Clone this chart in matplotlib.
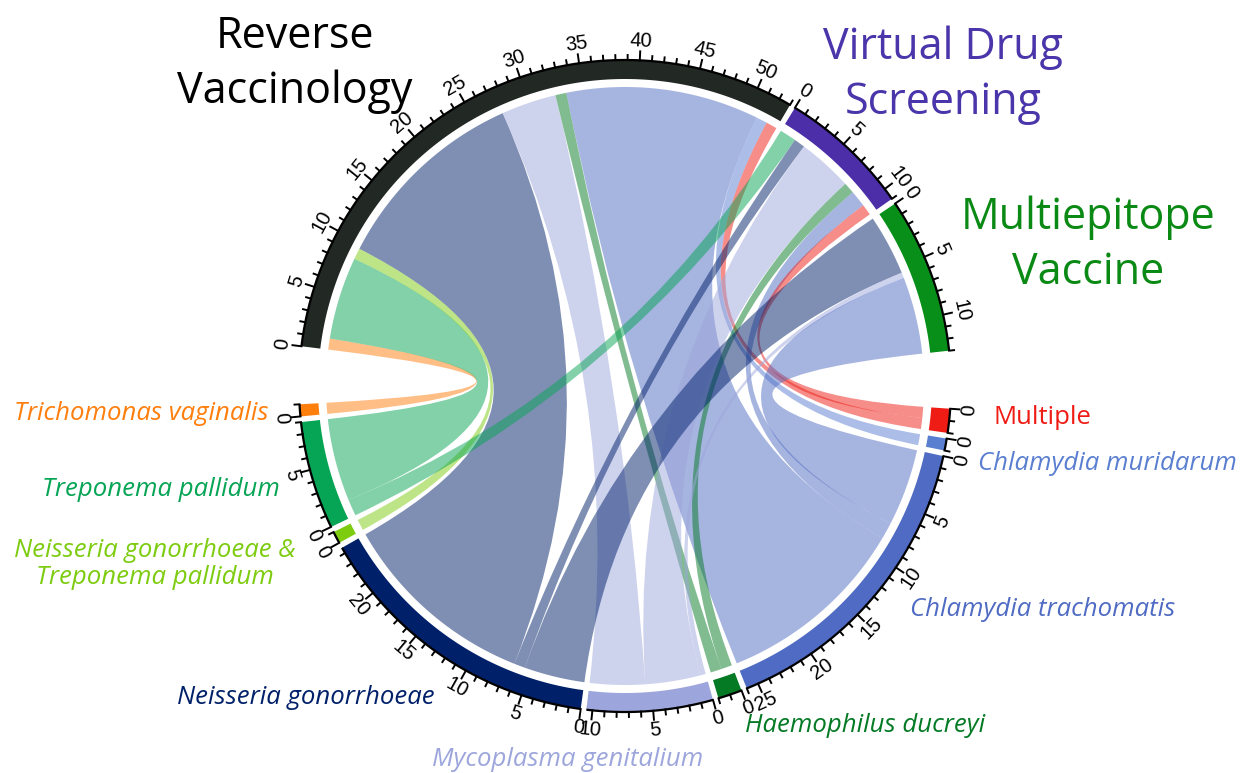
import numpy as np
import matplotlib.pyplot as plt
from matplotlib.path import Path
from matplotlib.patches import PathPatch, Polygon

# sectors, clockwise from the left
methods = ["Reverse\nVaccinology", "Virtual Drug\nScreening", "Multiepitope\nVaccine"]
pathogens = ["Multiple", "Chlamydia muridarum", "Chlamydia trachomatis",
             "Haemophilus ducreyi", "Mycoplasma genitalium", "Neisseria gonorrhoeae",
             "Neisseria gonorrhoeae &\nTreponema pallidum", "Treponema pallidum",
             "Trichomonas vaginalis"]

# number of studies: one row per method, one column per pathogen
rv_counts = [1, 1, 17.5, 1, 5, 18, 1, 7.5, 1]
vds_counts = [1, 0, 1.5, 1, 5, 1, 0, 1.5, 0]
mv_counts = [0, 0, 7, 0, 0.5, 5.5, 0, 0, 0]

method_colors = ["#222824", "#4b2ea8", "#078f1a"]
method_text_colors = ["#000000", "#4b35aa", "#0a8a14"]
pathogen_colors = ["#ee1c14", "#5a7fd0", "#4f6bc3", "#047a25", "#9da6dc",
                   "#00206a", "#7dcc10", "#06a455", "#ff7f0e"]

counts = np.array([rv_counts, vds_counts, mv_counts], dtype=float)

W, H = 1242, 773
cx, cy = 625, 386
r_out, r_in, r_link = 326, 307, 299
unit = 2.14          # degrees per study
small_gap = 1.0
start = 173.0


def pt(r, th):
    th = np.radians(th)
    return cx + r * np.cos(th), cy - r * np.sin(th)


def arc(r, t1, t2):
    ts = np.linspace(t1, t2, max(int(abs(t2 - t1) * 2), 8))
    return [pt(r, t) for t in ts]


fig = plt.figure(figsize=(W / 100, H / 100), dpi=100)
ax = fig.add_axes([0, 0, 1, 1])
ax.set_xlim(0, W)
ax.set_ylim(H, 0)
ax.axis("off")

# sector sizes and angles
colors = method_colors + pathogen_colors
sizes = list(counts.sum(axis=1)) + list(counts.sum(axis=0))
total = sum(sizes)
big_gap = (360 - total * unit - 10 * small_gap) / 2
gaps = [small_gap, small_gap, big_gap] + [small_gap] * 8 + [big_gap]

sec_start, sec_end = [], []
t = start
for s, g in zip(sizes, gaps):
    sec_start.append(t)
    sec_end.append(t - s * unit)
    t = t - s * unit - g

# sector blocks, axis line, ticks
for i, (s, col) in enumerate(zip(sizes, colors)):
    t1, t2 = sec_start[i], sec_end[i]
    poly = arc(r_out, t1, t2) + arc(r_in, t2, t1)
    ax.add_patch(Polygon(poly, closed=True, facecolor=col, edgecolor="none", zorder=3))
    xs, ys = zip(*arc(r_out, t1, t2))
    ax.plot(xs, ys, color="black", lw=1.6, zorder=4, solid_capstyle="butt")
    for k in range(int(np.floor(s + 1e-9)) + 1):
        th = t1 - k * unit
        major = k % 5 == 0
        p0 = pt(r_out, th)
        p1 = pt(r_out + (9 if major else 5), th)
        ax.plot([p0[0], p1[0]], [p0[1], p1[1]], color="black", lw=1.4, zorder=4)
        if major:
            rot = th - 90
            rot = (rot + 180) % 360 - 180
            if rot > 90 or rot < -90:
                rot += 180
            lx, ly = pt(r_out + 19, th)
            ax.text(lx, ly, str(k), rotation=rot, rotation_mode="anchor",
                    ha="center", va="center", fontsize=14.5,
                    family="Liberation Sans", zorder=5)

# link positions: method side follows reversed pathogen order,
# pathogen side follows reversed method order
m_pos = {}
for m in range(3):
    th = sec_start[m]
    for p in reversed(range(len(pathogens))):
        v = counts[m, p]
        if v > 0:
            m_pos[(m, p)] = (th, th - v * unit)
            th -= v * unit
p_pos = {}
for p in range(len(pathogens)):
    th = sec_start[3 + p]
    for m in reversed(range(3)):
        v = counts[m, p]
        if v > 0:
            p_pos[(m, p)] = (th, th - v * unit)
            th -= v * unit

for m in range(3):
    for p in reversed(range(len(pathogens))):
        if counts[m, p] <= 0:
            continue
        a1, a2 = m_pos[(m, p)]
        b1, b2 = p_pos[(m, p)]
        verts, codes = [], []
        pa = arc(r_link, a1, a2)
        verts += pa
        codes += [Path.MOVETO] + [Path.LINETO] * (len(pa) - 1)
        verts += [(cx, cy), pt(r_link, b1)]
        codes += [Path.CURVE3, Path.CURVE3]
        pb = arc(r_link, b1, b2)
        verts += pb[1:]
        codes += [Path.LINETO] * (len(pb) - 1)
        verts += [(cx, cy), pt(r_link, a1)]
        codes += [Path.CURVE3, Path.CURVE3]
        ax.add_patch(PathPatch(Path(verts, codes), facecolor=pathogen_colors[p],
                               edgecolor="none", alpha=0.5, zorder=2))

# sector names
big = dict(family="Open Sans", fontsize=31, ha="center", va="center", linespacing=1.3)
ax.text(295, 64, methods[0], color=method_text_colors[0], **big)
ax.text(943, 75, methods[1], color=method_text_colors[1], **big)
ax.text(1088, 245, methods[2], color=method_text_colors[2], **big)

small = dict(family="Open Sans", fontsize=18.5, va="center")
label_spots = [
    (993, 418, "left", "normal"),
    (978, 463, "left", "italic"),
    (910, 609, "left", "italic"),
    (745, 726, "left", "italic"),
    (568, 760, "center", "italic"),
    (435, 697, "right", "italic"),
    (155, 564, "center", "italic"),
    (280, 489, "right", "italic"),
    (268, 414, "right", "italic"),
]
for name, col, (x, y, ha, style) in zip(pathogens, pathogen_colors, label_spots):
    ax.text(x, y, name, color=col, ha=ha, style=style, linespacing=1.15, **small)

fig.savefig("out.png", dpi=100)
